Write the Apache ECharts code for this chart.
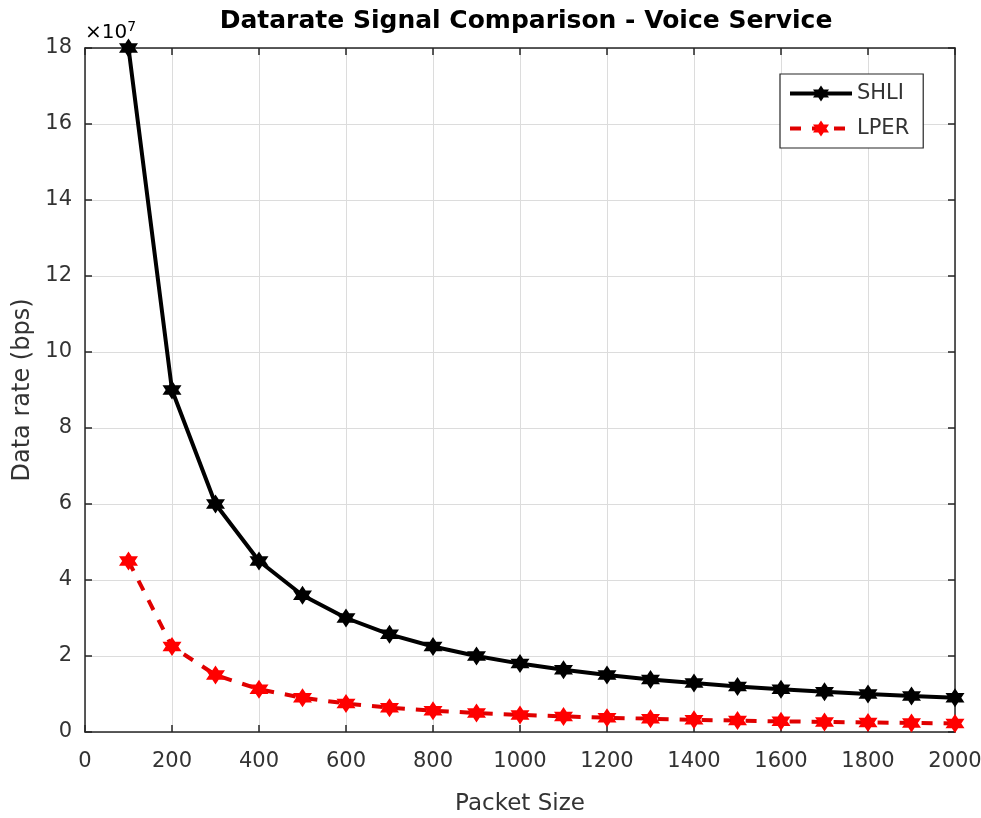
<!DOCTYPE html>
<html><head><meta charset="utf-8">
<script src="https://cdn.jsdelivr.net/npm/echarts@6/dist/echarts.min.js"></script>
<style>html,body{margin:0;padding:0;background:#fff}#c{width:981px;height:818px}</style>
</head><body><div id="c"></div>
<script>
const packetSize = [100,200,300,400,500,600,700,800,900,1000,1100,1200,1300,1400,1500,1600,1700,1800,1900,2000];
const shli = [180e6,90e6,60e6,45e6,36e6,30e6,25.7e6,22.5e6,20e6,18e6,16.4e6,15e6,13.8e6,12.9e6,12e6,11.25e6,10.6e6,10e6,9.5e6,9e6];
const lper = [45e6,22.5e6,15e6,11.25e6,9e6,7.5e6,6.4e6,5.6e6,5e6,4.5e6,4.1e6,3.75e6,3.5e6,3.2e6,3e6,2.8e6,2.65e6,2.5e6,2.37e6,2.25e6];
const xTicks = [0,200,400,600,800,1000,1200,1400,1600,1800,2000];
const yTicks = [0,2,4,6,8,10,12,14,16,18];

const star = 'path://M0,-10 L2.9,-5 L8.7,-5 L5.8,0 L8.7,5 L2.9,5 L0,10 L-2.9,5 L-8.7,5 L-5.8,0 L-8.7,-5 L-2.9,-5 Z';
const font = '"DejaVu Sans", Verdana, sans-serif';
const tickCol = '#333333';
const chart = echarts.init(document.getElementById('c'));
const axisCommonX = {type:'value', min:0, max:2000, interval:200};
const axisCommonY = {type:'value', min:0, max:180e6, interval:20e6};
const axLine = {show:true, onZero:false, lineStyle:{color:'#262626', width:1.5}};
const axTick = {show:true, inside:true, length:7, lineStyle:{color:'#262626', width:1.5}};
chart.setOption({
  animation:false,
  title:{text:'Datarate Signal Comparison - Voice Service', left:521, top:4, textAlign:'center',
    textStyle:{fontFamily:font, fontSize:25, fontWeight:'bold', color:'#000'}},
  grid:{left:85, right:26, top:48, bottom:86, containLabel:false, outerBoundsMode:'none'},
  xAxis:[Object.assign({}, axisCommonX, {
    name:'Packet Size', nameLocation:'middle', nameGap:61,
    nameTextStyle:{fontFamily:font, fontSize:23, color:tickCol},
    axisLine:axLine, axisTick:axTick,
    axisLabel:{fontFamily:font, fontSize:21, color:tickCol, margin:19,
      formatter:v=>xTicks.includes(v)?String(v):''},
    splitLine:{show:true, lineStyle:{color:'#dcdcdc', width:1}}
  }), Object.assign({}, axisCommonX, {
    position:'top', axisLine:axLine, axisTick:axTick,
    axisLabel:{show:false}, splitLine:{show:false}
  })],
  yAxis:[Object.assign({}, axisCommonY, {
    name:'Data rate (bps)', nameLocation:'middle', nameGap:49,
    nameTextStyle:{fontFamily:font, fontSize:24, color:tickCol},
    axisLine:axLine, axisTick:axTick,
    axisLabel:{fontFamily:font, fontSize:21, color:tickCol, margin:13,
      formatter:v=>{const t=Math.round(v/1e7); return yTicks.includes(t)?String(t):'';}},
    splitLine:{show:true, lineStyle:{color:'#dcdcdc', width:1}}
  }), Object.assign({}, axisCommonY, {
    position:'right', axisLine:axLine, axisTick:axTick,
    axisLabel:{show:false}, splitLine:{show:false}
  })],
  legend:{
    left:780, top:74, orient:'vertical', padding:[9,14,9,8], itemGap:14,
    itemWidth:62, itemHeight:20,
    backgroundColor:'#fff', borderColor:'#262626', borderWidth:1.2, borderRadius:0,
    textStyle:{fontFamily:font, fontSize:21, color:tickCol},
    lineStyle:{width:4},
    data:['SHLI','LPER']
  },
  graphic:[{type:'text', left:85, top:20,
    style:{text:'{a|×10}{b|7}', rich:{a:{fontFamily:font, fontSize:20, color:'#555'}, b:{fontFamily:font, fontSize:14, color:'#555', verticalAlign:'top', padding:[0,0,12,0]}}}}],
  series:[
    {name:'SHLI', type:'line', data:packetSize.map((x,i)=>[x,shli[i]]),
     lineStyle:{color:'#000', width:4}, itemStyle:{color:'#000'},
     symbol:star, symbolSize:19, z:3},
    {name:'LPER', type:'line', data:packetSize.map((x,i)=>[x,lper[i]]),
     lineStyle:{color:'#e00000', width:4, type:[11,11]}, itemStyle:{color:'#ff0000'},
     symbol:star, symbolSize:19, z:2}
  ]
});
</script></body></html>
